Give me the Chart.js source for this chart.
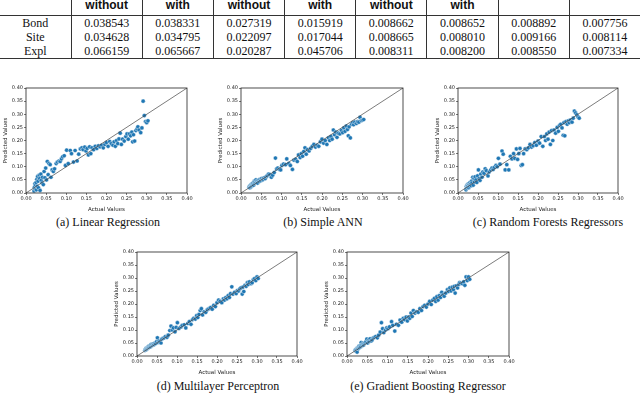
<!DOCTYPE html>
<html>
<head>
<meta charset="utf-8">
<script src="https://cdn.jsdelivr.net/npm/chart.js@4/dist/chart.umd.min.js"></script>
<style>
  html, body { margin: 0; padding: 0; background: #fff; }
  body { position: relative; width: 640px; height: 393px; overflow: hidden; }
  table.res { position: absolute; left: 0; top: -2px; border-collapse: collapse; font-family: "Liberation Serif", "DejaVu Serif", serif; font-size: 12px; color: #111; }
  table.res td { width: 71px; text-align: center; padding: 0; height: 14px; line-height: 14px; border-left: 1px solid #333; }
  table.res td:first-child { border-left: none; width: 72px; }
  table.res tr.head td { height: 17px; line-height: 14px; vertical-align: top; font-family: "Liberation Sans", sans-serif; font-weight: bold; font-size: 12px; border-bottom: 1px solid #333; }
  table.res tr.last td { border-bottom: 1px solid #333; }
  canvas { position: absolute; }
  .cap { position: absolute; font-family: "Liberation Serif", "DejaVu Serif", serif; font-size: 12px; color: #111; white-space: nowrap; transform: translateX(-50%); }
</style>
</head>
<body>
<table class="res" id="tbl"></table>
<div id="plots"></div>

<script>
// table contents
const tableHead = ['', 'without', 'with', 'without', 'with', 'without', 'with', '', ''];
const rowNames = ['Bond', 'Site', 'Expl'];
const bondErr = ['0.038543', '0.038331', '0.027319', '0.015919', '0.008662', '0.008652', '0.008892', '0.007756'];
const siteErr = ['0.034628', '0.034795', '0.022097', '0.017044', '0.008665', '0.008010', '0.009166', '0.008114'];
const explErr = ['0.066159', '0.065667', '0.020287', '0.045706', '0.008311', '0.008200', '0.008550', '0.007334'];

// scatter data: actual values (shared test set) and each model's predictions
const actual = [
  0.020, 0.021, 0.022, 0.023, 0.024, 0.025, 0.026, 0.027, 0.028, 0.029,
  0.030, 0.031, 0.033, 0.034, 0.035, 0.037, 0.038, 0.040, 0.041, 0.043,
  0.045, 0.047, 0.049, 0.051, 0.053, 0.055, 0.057, 0.060, 0.062, 0.065,
  0.068, 0.071, 0.075, 0.078, 0.082, 0.085, 0.088, 0.091, 0.095, 0.098,
  0.101, 0.105, 0.110, 0.113, 0.118, 0.122, 0.127, 0.131, 0.135, 0.139,
  0.142, 0.146, 0.149, 0.152, 0.155, 0.158, 0.161, 0.164, 0.168, 0.172,
  0.176, 0.180, 0.184, 0.188, 0.192, 0.196, 0.200, 0.204, 0.208, 0.212,
  0.216, 0.219, 0.222, 0.225, 0.228, 0.231, 0.234, 0.237, 0.240, 0.244,
  0.248, 0.251, 0.254, 0.257, 0.260, 0.263, 0.265, 0.267, 0.270, 0.273,
  0.276, 0.278, 0.281, 0.285, 0.288, 0.291, 0.294, 0.297, 0.300, 0.303
];
const predLinear = [
  0.008, 0.022, 0.035, 0.015, 0.030, 0.040, 0.012, 0.052, 0.025, 0.063,
  0.045, 0.020, 0.068, 0.055, 0.010, 0.072, 0.048, 0.038, 0.060, 0.032,
  0.082, 0.058, 0.095, 0.050, 0.120, 0.070, 0.112, 0.108, 0.060, 0.088,
  0.082, 0.092, 0.112, 0.118, 0.122, 0.120, 0.130, 0.138, 0.142, 0.105,
  0.163, 0.112, 0.162, 0.150, 0.118, 0.162, 0.122, 0.148, 0.168, 0.172,
  0.165, 0.175, 0.160, 0.170, 0.145, 0.176, 0.150, 0.172, 0.165, 0.178,
  0.170, 0.180, 0.176, 0.182, 0.172, 0.185, 0.192, 0.178, 0.196, 0.188,
  0.182, 0.195, 0.178, 0.200, 0.188, 0.206, 0.228, 0.185, 0.205, 0.198,
  0.215, 0.225, 0.205, 0.225, 0.218, 0.232, 0.195, 0.222, 0.198, 0.238,
  0.244, 0.252, 0.240, 0.230, 0.248, 0.350, 0.295, 0.272, 0.268, 0.275
];
const predANN = [
  0.022, 0.025, 0.020, 0.028, 0.030, 0.024, 0.033, 0.028, 0.035, 0.032,
  0.038, 0.030, 0.045, 0.036, 0.042, 0.050, 0.040, 0.046, 0.038, 0.048,
  0.044, 0.052, 0.047, 0.055, 0.050, 0.052, 0.058, 0.055, 0.062, 0.066,
  0.072, 0.070, 0.060, 0.068, 0.078, 0.133, 0.092, 0.095, 0.090, 0.088,
  0.105, 0.110, 0.108, 0.130, 0.112, 0.105, 0.090, 0.125, 0.128, 0.120,
  0.145, 0.135, 0.150, 0.140, 0.158, 0.172, 0.148, 0.165, 0.160, 0.170,
  0.178, 0.185, 0.175, 0.182, 0.178, 0.195, 0.205, 0.190, 0.200, 0.185,
  0.210, 0.200, 0.215, 0.205, 0.240, 0.222, 0.232, 0.212, 0.228, 0.225,
  0.238, 0.230, 0.248, 0.235, 0.255, 0.242, 0.218, 0.252, 0.210, 0.262,
  0.268, 0.260, 0.270, 0.265, 0.272, 0.270, 0.288, 0.276, 0.278, 0.280
];
const predForest = [
  0.012, 0.025, 0.018, 0.030, 0.022, 0.028, 0.035, 0.020, 0.032, 0.026,
  0.040, 0.033, 0.028, 0.045, 0.038, 0.060, 0.030, 0.055, 0.042, 0.062,
  0.050, 0.040, 0.065, 0.088, 0.055, 0.048, 0.072, 0.060, 0.080, 0.075,
  0.092, 0.085, 0.065, 0.080, 0.088, 0.095, 0.090, 0.098, 0.105, 0.100,
  0.132, 0.110, 0.160, 0.148, 0.088, 0.108, 0.088, 0.140, 0.130, 0.150,
  0.132, 0.168, 0.128, 0.150, 0.170, 0.105, 0.108, 0.150, 0.168, 0.165,
  0.172, 0.185, 0.175, 0.180, 0.192, 0.182, 0.198, 0.190, 0.215, 0.178,
  0.215, 0.200, 0.225, 0.205, 0.232, 0.185, 0.238, 0.200, 0.240, 0.228,
  0.250, 0.235, 0.258, 0.262, 0.248, 0.220, 0.268, 0.218, 0.272, 0.262,
  0.275, 0.268, 0.278, 0.270, 0.285, 0.312, 0.305, 0.298, 0.290, 0.285
];
const predMLP = [
  0.022, 0.025, 0.028, 0.024, 0.030, 0.027, 0.032, 0.030, 0.035, 0.033,
  0.038, 0.034, 0.040, 0.036, 0.044, 0.040, 0.045, 0.042, 0.047, 0.044,
  0.050, 0.048, 0.055, 0.070, 0.052, 0.058, 0.055, 0.050, 0.065, 0.068,
  0.070, 0.075, 0.072, 0.080, 0.098, 0.115, 0.100, 0.108, 0.093, 0.110,
  0.128, 0.106, 0.112, 0.118, 0.120, 0.108, 0.125, 0.132, 0.122, 0.140,
  0.145, 0.142, 0.155, 0.148, 0.160, 0.175, 0.182, 0.158, 0.170, 0.168,
  0.178, 0.182, 0.186, 0.180, 0.195, 0.190, 0.205, 0.215, 0.210, 0.205,
  0.220, 0.215, 0.225, 0.220, 0.232, 0.225, 0.240, 0.266, 0.238, 0.245,
  0.240, 0.252, 0.250, 0.258, 0.262, 0.238, 0.265, 0.248, 0.272, 0.268,
  0.282, 0.275, 0.285, 0.278, 0.282, 0.294, 0.298, 0.290, 0.304, 0.298
];
const predBoost = [
  0.022, 0.020, 0.025, 0.018, 0.028, 0.015, 0.030, 0.032, 0.028, 0.035,
  0.038, 0.033, 0.040, 0.036, 0.052, 0.040, 0.045, 0.050, 0.042, 0.048,
  0.052, 0.055, 0.065, 0.050, 0.060, 0.056, 0.066, 0.058, 0.062, 0.070,
  0.072, 0.075, 0.070, 0.080, 0.092, 0.128, 0.105, 0.090, 0.100, 0.108,
  0.105, 0.112, 0.132, 0.118, 0.096, 0.122, 0.118, 0.138, 0.130, 0.145,
  0.140, 0.150, 0.135, 0.150, 0.145, 0.165, 0.152, 0.175, 0.165, 0.170,
  0.168, 0.182, 0.175, 0.190, 0.195, 0.188, 0.200, 0.210, 0.198, 0.215,
  0.222, 0.210, 0.228, 0.215, 0.232, 0.225, 0.245, 0.235, 0.230, 0.242,
  0.255, 0.248, 0.262, 0.250, 0.265, 0.255, 0.268, 0.242, 0.270, 0.262,
  0.275, 0.282, 0.280, 0.278, 0.285, 0.272, 0.304, 0.290, 0.304, 0.295
];
const axisTicks = [0, 0.05, 0.10, 0.15, 0.20, 0.25, 0.30, 0.35, 0.40];

// build table
const tbl = document.getElementById('tbl');
function addRow(cells, cls) {
  const tr = document.createElement('tr');
  if (cls) tr.className = cls;
  cells.forEach(c => {
    const td = document.createElement('td');
    td.textContent = c;
    tr.appendChild(td);
  });
  tbl.appendChild(tr);
}
addRow(tableHead, 'head');
addRow([rowNames[0]].concat(bondErr));
addRow([rowNames[1]].concat(siteErr));
addRow([rowNames[2]].concat(explErr), 'last');

// plot boxes (plot-area pixel positions) and captions
const panels = [
  { pred: predLinear, box: [26, 88, 161, 105], cap: '(a) Linear Regression', cx: 108, cy: 215 },
  { pred: predANN,    box: [241, 88, 162, 105], cap: '(b) Simple ANN', cx: 323, cy: 215 },
  { pred: predForest, box: [458, 88, 160, 105], cap: '(c) Random Forests Regressors', cx: 548, cy: 215 },
  { pred: predMLP,    box: [137, 252, 160, 104], cap: '(d) Multilayer Perceptron', cx: 218, cy: 379 },
  { pred: predBoost,  box: [347, 252, 162, 104], cap: '(e) Gradient Boosting Regressor', cx: 428, cy: 379 }
];

const YW = 24, XH = 20, PT = 5, PR = 10;

const frame = {
  id: 'frame',
  afterDraw(chart) {
    const a = chart.chartArea, ctx = chart.ctx;
    ctx.save();
    ctx.strokeStyle = '#222';
    ctx.lineWidth = 0.8;
    ctx.strokeRect(a.left, a.top, a.right - a.left, a.bottom - a.top);
    ctx.restore();
  }
};

function axis(title, isX) {
  return {
    type: 'linear', min: 0, max: 0.4,
    afterBuildTicks: s => { s.ticks = axisTicks.map(v => ({ value: v })); },
    ticks: { font: { size: 5, family: 'DejaVu Sans' }, color: '#222', padding: 1, autoSkip: false, maxRotation: 0,
             callback: v => v.toFixed(2) },
    grid: { drawOnChartArea: false, tickLength: 2, color: '#222', lineWidth: 0.6 },
    border: { display: false },
    title: { display: true, text: title, font: { size: 5.5, family: 'DejaVu Sans' }, color: '#222', padding: 0 },
    afterFit: s => { if (isX) s.height = XH; else s.width = YW; }
  };
}

const host = document.getElementById('plots');
panels.forEach(p => {
  const [L, T, W, H] = p.box;
  const cv = document.createElement('canvas');
  cv.width = YW + W + PR;
  cv.height = PT + H + XH;
  cv.style.left = (L - YW) + 'px';
  cv.style.top = (T - PT) + 'px';
  host.appendChild(cv);

  const cap = document.createElement('div');
  cap.className = 'cap';
  cap.textContent = p.cap;
  cap.style.left = p.cx + 'px';
  cap.style.top = p.cy + 'px';
  document.body.appendChild(cap);

  new Chart(cv.getContext('2d'), {
    type: 'scatter',
    data: {
      datasets: [
        { type: 'line', data: [{ x: 0, y: 0 }, { x: 0.4, y: 0.4 }], borderColor: '#444', borderWidth: 0.7,
          pointRadius: 0, fill: false, order: 0 },
        { data: actual.map((x, i) => ({ x: x, y: p.pred[i] })), backgroundColor: '#1f77b4',
          borderColor: '#ffffff', borderWidth: 0.4, pointRadius: 2.1, order: 1 }
      ]
    },
    options: {
      responsive: false, animation: false, devicePixelRatio: 1,
      layout: { padding: { left: 0, top: PT, right: PR, bottom: 0 } },
      plugins: { legend: { display: false }, tooltip: { enabled: false } },
      scales: { x: axis('Actual Values', true), y: axis('Predicted Values', false) }
    },
    plugins: [frame]
  });
});
</script>
</body>
</html>
